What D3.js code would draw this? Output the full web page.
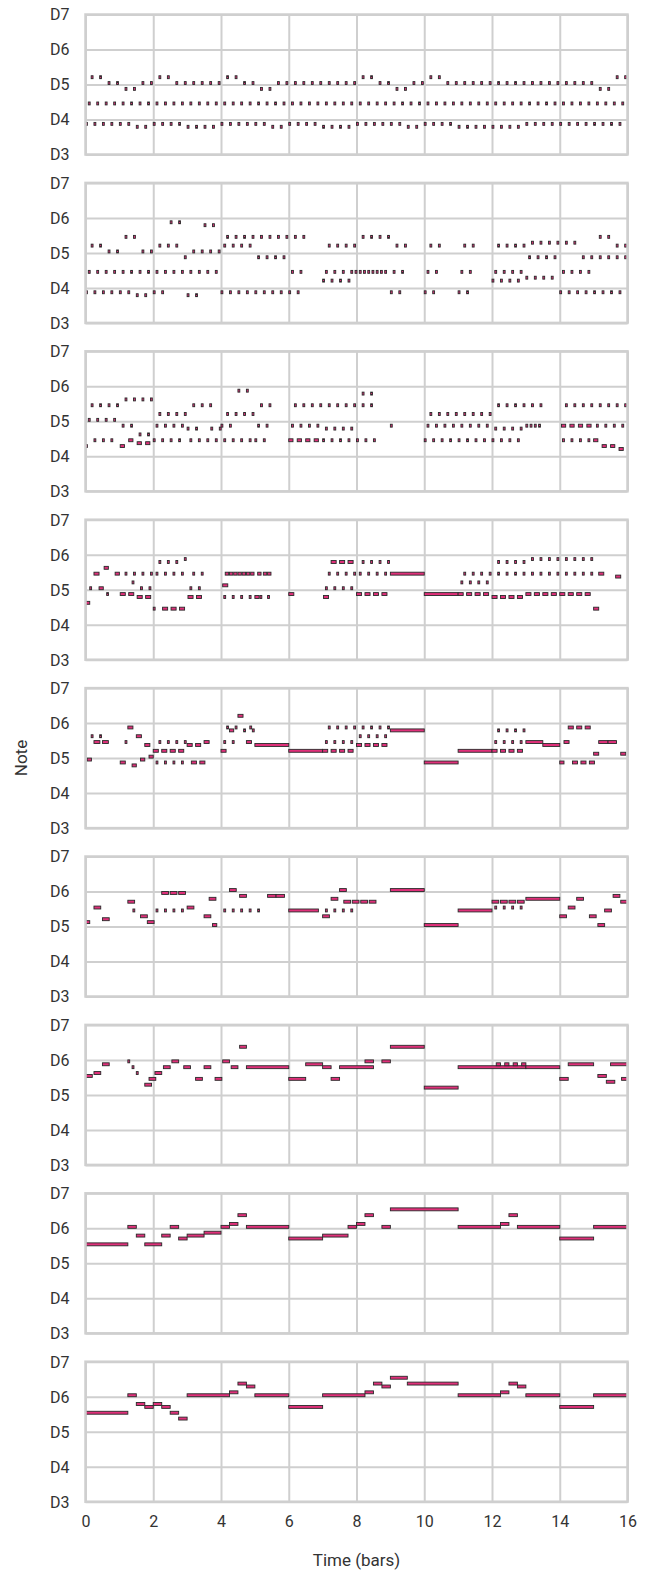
<!DOCTYPE html>
<html>
<head>
<meta charset="utf-8">
<script src="https://cdn.jsdelivr.net/npm/d3@7"></script>
<style>
body { margin: 0; background: #fff; }
text { font-family: Roboto, "Noto Sans", sans-serif; }
</style>
</head>
<body>
<svg id="chart" width="648" height="1574"></svg>
<script>
// y axis: MIDI pitch of each octave line, and its name
var pitchTicks = [50, 62, 74, 86, 98];
var pitchLabels = ["D3", "D4", "D5", "D6", "D7"];
var barTicks = [0, 2, 4, 6, 8, 10, 12, 14, 16];

// panel 1 is three regular voices, one note per beat (MIDI pitch)
var p1Low = [60,60,60,60,60,60,59,59, 60,60,60,60,59,59,59,59, 60,60,60,60,60,60,59,59, 60,60,60,60,59,59,59,59,
             60,60,60,60,60,60,59,59, 60,60,60,60,59,59,59,59, 59,59,59,59,60,60,60,60, 60,60,60,60,60,60,60,60];
var p1Mid = [67,67,67,67,67,67,67,67, 67,67,67,67,67,67,67,67, 67,67,67,67,67,67,67,67, 67,67,67,67,67,67,67,67,
             67,67,67,67,67,67,67,67, 67,67,67,67,67,67,67,67, 67,67,67,67,67,67,67,67, 67,67,67,67,67,67,67,67];
var p1High = [76,76,74,74,72,72,74,74, 76,76,74,74,74,74,74,74, 76,76,74,74,72,72,74,74, 74,74,74,74,74,74,74,74,
              76,76,74,74,72,72,74,74, 76,76,74,74,74,74,74,74, 74,74,74,74,74,74,74,74, 74,74,74,74,72,72,76,76];
var p1Offsets = [0, 0.33, 0.67];

// other panels: [start (beats), MIDI pitch, duration (beats, default 0.22)]
var roll2 = [
  [0,60],[1,60],[2,60],[3,60],[4,60],[5,60],[6,59],[7,59],[8,60],[9,60],[12,59],[13,59],
  [16,60],[17,60],[18,60],[19,60],[20,60],[21,60],[22,60],[23,60],[24,60],[25,60],
  [28,64],[29,64],[30,64],[31,64],[36,60],[37,60],[40,60],[41,60],[44,60],[45,60],
  [48,64],[49,64],[50,64],[51,64],[52,65],[53,65],[54,65],[55,65],
  [56,60],[57,60],[58,60],[59,60],[60,60],[61,60],[62,60],[63,60],
  [0.33,67],[1.33,67],[2.33,67],[3.33,67],[4.33,67],[5.33,67],[6.33,67],[7.33,67],
  [8.33,67],[9.33,67],[10.33,67],[11.33,67],[12.33,67],[13.33,67],[14.33,67],[15.33,67],
  [11.67,72],[24.33,67],[25.33,67],[28.33,67],[29.33,67],[30.33,67],[31.33,67],
  [31.83,67],[32.33,67],[32.83,67],[33.33,67],[33.83,67],[34.33,67],[34.83,67],[35.33,67],
  [36.33,67],[37.33,67],[40.33,67],[41.33,67],[44.33,67],[45.33,67],
  [48.33,67],[49.33,67],[50.33,67],[51.33,67],[56.33,67],[57.33,67],[58.33,67],[59.33,67],
  [0.67,76],[1.67,76],[2.67,74],[3.67,74],[4.67,79],[5.67,79],[6.67,74],[7.67,74],
  [8.67,76],[9.67,76],[10.67,76],[10,84],[11,84],
  [12.67,74],[13.67,74],[14.67,74],[15.67,74],[14,83],[15,83],
  [16.33,76],[17.33,76],[18.33,76],[19.33,76],
  [16.67,79],[17.67,79],[18.67,79],[19.67,79],[20.67,79],[21.67,79],[22.67,79],[23.67,79],[24.67,79],[25.67,79],
  [20.33,72],[21.33,72],[22.33,72],[23.33,72],
  [28.67,76],[29.67,76],[30.67,76],[31.67,76],[32.67,79],[33.67,79],[34.67,79],[35.67,79],
  [36.67,76],[37.67,76],[40.67,76],[41.67,76],[44.67,76],[45.67,76],
  [48.67,76],[49.67,76],[50.67,76],[51.67,76],[52.33,72],[53.33,72],[54.33,72],[55.33,72],
  [52.67,77],[53.67,77],[54.67,77],[55.67,77],[56.67,77],[57.67,77],
  [58.67,72],[59.67,72],[60.67,72],[61.67,72],[62.67,72],[63.67,72],
  [60.67,79],[61.67,79],[62.67,76],[63.67,76]
];

var roll3 = [
  [0,65],[1,67],[2,67],[3,67],[4.1,65,0.5],[5.1,67,0.5],[6.1,66,0.5],[7.1,66,0.5],
  [8,67],[9,67],[10,67],[11,67],[12.33,67],[13.33,67],[14.33,67],[15.33,67],
  [16.33,67],[17.33,67],[18.33,67],[19.33,67],[20,67],[21,67],
  [24,67,0.5],[25,67,0.5],[26,67,0.5],[27,67,0.5],[28,67],[29,67],[30,67],[31,67],[32,67],[33,67],[34,67],
  [40,67],[41,67],[42,67],[43,67],[44,67],[45,67],[46,67],[47,67],[48,67],[49,67],[50,67],[51,67],
  [56.33,67],[57.33,67],[58.33,67],[59.33,67],[60,67,0.5],[61,65,0.5],[62,65,0.5],[63,64,0.5],
  [0.33,74],[1.33,74],[2.33,74],[3.33,74],[0.67,79],[1.67,79],[2.67,79],[3.67,79],
  [4.33,72],[5.33,72],[4.67,81],[5.67,81],[6.67,81],[7.67,81],[6.33,69],[7.33,69],
  [8.33,72],[9.33,72],[10.33,72],[11.33,72],[8.67,76],[9.67,76],[10.67,76],[11.67,76],
  [12,71],[13,71],[14.8,71],[15.8,71],[12.67,79],[13.67,79],[14.67,79],
  [16,72],[17,72],[16.67,76],[17.67,76],[18.67,76],[19.67,76],[18,84],[19,84],
  [20.33,72],[21.33,72],[20.67,79],[21.67,79],
  [24.33,72],[25.33,72],[26.33,72],[27.33,72],[28.33,71],[29.33,71],[30.33,71],[31.33,71],
  [24.67,79],[25.67,79],[26.67,79],[27.67,79],[28.67,79],[29.67,79],[30.67,79],[31.67,79],
  [32.67,79],[33.67,79],[32.67,83],[33.67,83],[36,72],
  [40.33,72],[41.33,72],[42.33,72],[43.33,72],[44.33,72],[45.33,72],[46.33,72],[47.33,72],
  [40.67,76],[41.67,76],[42.67,76],[43.67,76],[44.67,76],[45.67,76],[46.67,76],[47.67,76],
  [48.33,71],[49.33,71],[50.33,71],[51.33,71],
  [48.67,79],[49.67,79],[50.67,79],[51.67,79],[52.67,79],[53.67,79],
  [52,72],[52.5,72],[53,72],[53.5,72],
  [56.2,72,0.5],[57.2,72,0.5],[58.2,72,0.5],[59.2,72,0.5],[60.33,72],[61.33,72],[62.33,72],[63.33,72],
  [56.67,79],[57.67,79],[58.67,79],[59.67,79],[60.67,79],[61.67,79],[62.67,79],[63.67,79]
];

var roll4 = [
  [0,69,0.5],[0.5,74],[1,79,0.6],[1.6,74,0.5],[2.2,81,0.5],[2.5,72],[3.5,79,0.5],
  [4.1,72,0.6],[5.1,72,0.6],[4.67,79],[5.67,79],[6.67,79],[7.67,79],[5.5,76],
  [6.1,71,0.6],[7.1,71,0.6],[6.5,74],[7.5,74],
  [8,67],[9.1,67,0.6],[10.1,67,0.6],[11.1,67,0.6],
  [8.33,79],[9.33,79],[10.33,79],[11.33,79],[12.67,79],[13.67,79],
  [8.67,83],[9.67,83],[10.67,83],[11.67,84],
  [12.33,74],[13.33,74],[12.1,71,0.6],[13.1,71,0.6],
  [16.2,75,0.6],
  [16.5,79,0.4],[17,79,0.4],[17.5,79,0.4],[18,79,0.4],[18.5,79,0.4],[19,79,0.4],[19.5,79,0.4],[20.33,79,0.4],[21,79,0.4],[21.5,79,0.4],
  [16.33,71],[17.33,71],[18.33,71],[19.33,71],[20,71,0.5],[20.6,71],[21.5,71],
  [24,72,0.6],[28.1,71,0.6],
  [28.33,74],[29.33,74],[30.33,74],[31.33,74],[28.67,79],[29.67,79],[30.67,79],[31.67,79],
  [29,83,0.6],[30,83,0.6],[31,83,0.6],
  [32.33,79],[33.33,79],[34.33,79],[35.33,79],[32.67,83],[33.67,83],[34.67,83],[35.67,83],
  [32,72,0.6],[33,72,0.6],[34,72,0.6],[35,72,0.6],
  [36,79,4],[40,72,4],
  [44,72,0.6],[45,72,0.6],[46,72,0.6],[47,72,0.6],[44.33,76],[45.33,76],[46.33,76],[47.33,76],
  [44.67,79],[45.67,79],[46.67,79],[47.67,79],[48.67,79],[49.67,79],[50.67,79],[51.67,79],
  [52.67,79],[53.67,79],[54.67,79],[55.67,79],[56.67,79],[57.67,79],[58.67,79],[59.67,79],
  [48,71,0.6],[49,71,0.6],[50,71,0.6],[51,71,0.6],[48.67,83],[49.67,83],[50.67,83],[51.67,83],
  [52,72,0.6],[53,72,0.6],[54,72,0.6],[55,72,0.6],[56,72,0.6],[57,72,0.6],[58,72,0.6],[59,72,0.6],
  [52.67,84],[53.67,84],[54.67,84],[55.67,84],[56.67,84],[57.67,84],[58.67,84],[59.67,84],
  [60,67,0.6],[60.6,79,0.6],[62.6,78,0.6]
];

var roll5 = [
  [0.2,73,0.5],[0.67,81],[1.67,81],[1,79,0.7],[2,79,0.7],
  [4.1,72,0.6],[4.67,79],[5,84,0.6],[5.5,71,0.5],[6,81,0.6],[6.5,73,0.5],[7,78,0.6],[7.5,74,0.5],
  [8,76,0.6],[9,76,0.6],[10,76,0.6],[11,76,0.6],[8.33,72],[9.33,72],[10.33,72],[11.33,72],
  [8.67,79],[9.67,79],[10.67,79],[11.67,79],
  [12,78,0.6],[13,78,0.6],[14,79,0.6],[12.5,72,0.6],[13.5,72,0.6],
  [16,76,0.6],[16.33,79],[17.33,79],[19,79,0.6],
  [16.67,84],[17,83,0.5],[17.67,84],[18.67,83],[19.4,84],[19.7,83],[18,88,0.6],
  [20,78,4],[24,76,4],
  [28,76,0.6],[29,76,0.6],[30,76,0.6],[31,76,0.6],[28.33,79],[29.33,79],[30.33,79],[31.33,79],
  [28.67,84],[29.67,84],[30.67,84],[31.67,84],
  [32,78,0.6],[33,78,0.6],[34,78,0.6],[35,78,0.6],[32.33,81],[33.33,81],[34.33,81],[35.33,81],
  [32.67,84],[33.67,84],[34.67,84],[35.67,84],
  [36,83,4],[40,72,4],[44,76,4],
  [48,76,0.6],[49,76,0.6],[50,76,0.6],[51,76,0.6],[48.33,79],[49.33,79],[50.33,79],[51.33,79],
  [48.67,83],[49.67,83],[50.67,83],[51.67,83],
  [52,79,2],[54,78,2],
  [56,72,0.5],[56.5,79,0.6],[57,84,0.6],[58,84,0.6],[59,84,0.6],[57.5,72,0.6],[58.5,72,0.6],[59.5,72,0.6],
  [60,75,0.6],[60.6,79,1.1],[61.7,79,1],[63.2,75,0.6]
];

var roll6 = [
  [0,75,0.5],[1,80,0.8],[2,76,0.8],[5,82,0.8],[5.6,79],[6.5,77,0.8],[7.3,75,0.8],
  [8.33,79],[9.33,79],[10.33,79],[11.33,79],[9,85,0.8],[10,85,0.8],[11,85,0.8],
  [12,80,0.8],[14,77,0.8],[14.6,83,0.8],[15,74,0.5],
  [16.33,79],[17.33,79],[18.33,79],[19.33,79],[20.33,79],[17,86,0.8],[18.2,84,0.8],[21.5,84,1],[22.5,84,1],
  [24,79,3.5],[28,77,0.8],[29,83,0.8],[30,86,0.8],
  [28.33,79],[29.33,79],[30.33,79],[31.33,79],[30.5,82,0.8],[31.5,82,0.8],[32.5,82,0.8],[33.5,82,0.8],
  [36,86,4],[40,74,4],[44,79,4],
  [48,82,0.8],[49,82,0.8],[50,82,0.8],[51,82,0.8],[48.33,80],[49.33,80],[50.33,80],[51.33,80],
  [52,83,4],
  [56,77,0.8],[57,80,0.8],[58,83,0.8],[59.5,77,0.8],[60.5,74,0.8],[61.3,79,0.8],[62.3,84,0.8],[63.2,82,0.8]
];

var roll7 = [
  [0,80,0.8],[1,81,0.8],[2,84,0.8],[5,85],[5.5,83],[6,81],[7,77,0.8],[7.5,79,0.8],[8.2,81,0.8],[9.2,83,0.8],
  [10.2,85,0.8],[11.6,83,0.8],[13,79,0.8],[14,83,0.8],[15.3,79,0.8],[16.2,85,0.8],[17.2,83,0.8],[18.2,90,0.8],[19,83,5],
  [24,79,2],[26,84,2],[28,83,1],[29,79,1],[30,83,4],[33,85,1],[35,85,1],
  [36,90,4],[40,76,4],[44,83,8],[48.5,84,0.5],[49.5,84,0.5],[50.5,84,0.5],[51.5,84,0.5],[52,83,4],
  [56,79,1],[57,84,3],[60.5,80,1],[61.5,78,1],[62,84,2],[63.3,79,0.7]
];

var roll8 = [
  [0,80,5],[5,86,1],[6,83,1],[7,80,2],[9,83,1],[10,86,1],[11,82,1],[12,83,2],[14,84,2],[16,86,1],
  [17,87,1],[18,90,1],[19,86,5],[24,82,4],[28,83,3],[31,86,1],[32,87,1],[33,90,1],[35,86,1],
  [36,92,8],[44,86,5],[49,87,1],[50,90,1],[51,86,5],[56,82,4],[60,86,4]
];

var roll9 = [
  [0,80,5],[5,86,1],[6,83,1],[7,82,1],[8,83,1],[9,82,1],[10,80,1],[11,78,1],[12,86,5],
  [17,87,1],[18,90,1],[19,89,1],[20,86,4],[24,82,4],[28,86,5],[33,87,1],[34,90,1],[35,89,1],
  [36,92,2],[38,90,6],[44,86,5],[49,87,1],[50,90,1],[51,89,1],[52,86,4],[56,82,4],[60,86,4]
];

var roll1 = [];
[p1Low, p1Mid, p1High].forEach(function(voice, k) {
  voice.forEach(function(p, i) { roll1.push([i + p1Offsets[k], p]); });
});
var rolls = [roll1, roll2, roll3, roll4, roll5, roll6, roll7, roll8, roll9];

var left = 85.5, plotW = 542, plotH = 140, top0 = 14.5, step = 168.4;
var x = d3.scaleLinear().domain([0, 16]).range([0, plotW]);
var y = d3.scaleLinear().domain([50, 98]).range([plotH, 0]);
var svg = d3.select("#chart");
var gridColor = "#cfcfcf";

rolls.forEach(function(notes, i) {
  var g = svg.append("g").attr("transform", "translate(" + left + "," + (top0 + i * step) + ")");

  var gx = g.append("g").attr("transform", "translate(0," + plotH + ")")
    .call(d3.axisBottom(x).tickValues(barTicks).tickSize(-plotH).tickSizeOuter(0).tickPadding(14));
  var gy = g.append("g")
    .call(d3.axisLeft(y).tickValues(pitchTicks).tickFormat(function(d, j) { return pitchLabels[j]; })
      .tickSize(-plotW).tickSizeOuter(0).tickPadding(16));
  [gx, gy].forEach(function(a) {
    a.select(".domain").remove();
    a.selectAll(".tick line").attr("stroke", gridColor).attr("stroke-width", 2);
    a.selectAll(".tick text").attr("fill", "#333").style("font-size", "16px");
  });
  gy.selectAll(".tick text").attr("dy", "0.34em");
  if (i < rolls.length - 1) gx.selectAll(".tick text").remove();

  g.selectAll("rect.note").data(notes).enter().append("rect")
    .attr("class", "note")
    .attr("x", function(d) { return x(d[0] / 4); })
    .attr("y", function(d) { return y(d[1] + 1); })
    .attr("width", function(d) { return x((d[0] + (d[2] || 0.22)) / 4) - x(d[0] / 4); })
    .attr("height", function(d) { return y(d[1]) - y(d[1] + 1); })
    .attr("fill", "#e0307a")
    .attr("stroke", "#2a2a2a")
    .attr("stroke-width", 0.9);

  g.append("rect").attr("x", 0).attr("y", 0).attr("width", plotW).attr("height", plotH)
    .attr("fill", "none").attr("stroke", gridColor).attr("stroke-width", 2.5);
});

svg.append("text").attr("x", left + plotW / 2).attr("y", 1566)
  .attr("text-anchor", "middle").attr("fill", "#333").style("font-size", "17px").text("Time (bars)");
svg.append("text").attr("transform", "translate(27,758) rotate(-90)")
  .attr("text-anchor", "middle").attr("fill", "#333").style("font-size", "17px").text("Note");
</script>
</body>
</html>
